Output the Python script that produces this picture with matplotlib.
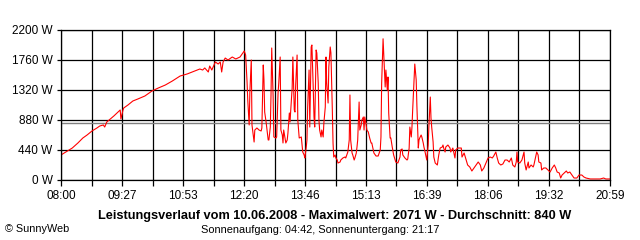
import numpy as np
import matplotlib
matplotlib.use("Agg")
import matplotlib.pyplot as plt

# Leistungsverlauf 10.06.2008 (time of day, power in W)
times = [
    "08:00", "08:07", "08:16", "08:24", "08:31", "08:37", "08:44", "08:51", "08:55", "09:00",
    "09:02", "09:05", "09:10", "09:15", "09:21", "09:24", "09:25", "09:28", "09:29", "09:35",
    "09:42", "09:49", "09:59", "10:09", "10:18", "10:28", "10:38", "10:49", "10:59", "11:10",
    "11:17", "11:21", "11:24", "11:29", "11:31", "11:34", "11:39", "11:43", "11:46", "11:48",
    "11:50", "11:53", "11:57", "12:03", "12:08", "12:14", "12:18", "12:20", "12:22", "12:24",
    "12:25", "12:27", "12:28", "12:30", "12:31", "12:34", "12:35", "12:38", "12:41", "12:44",
    "12:45", "12:47", "12:48", "12:49", "12:51", "12:54", "12:55", "12:57", "12:58", "12:59",
    "13:01", "13:02", "13:05", "13:06", "13:08", "13:09", "13:11", "13:12", "13:14", "13:15",
    "13:16", "13:19", "13:21", "13:22", "13:24", "13:25", "13:26", "13:28", "13:29", "13:31",
    "13:32", "13:33", "13:35", "13:36", "13:38", "13:41", "13:42", "13:43", "13:45", "13:46",
    "13:48", "13:49", "13:50", "13:52", "13:53", "13:55", "13:56", "13:58", "13:59", "14:00",
    "14:02", "14:03", "14:05", "14:06", "14:07", "14:09", "14:10", "14:12", "14:13", "14:15",
    "14:16", "14:17", "14:19", "14:20", "14:22", "14:23", "14:25", "14:26", "14:27", "14:29",
    "14:30", "14:32", "14:33", "14:36", "14:37", "14:40", "14:43", "14:44", "14:47", "14:49",
    "14:50", "14:51", "14:53", "14:54", "14:56", "14:57", "14:59", "15:00", "15:01", "15:03",
    "15:04", "15:06", "15:07", "15:09", "15:10", "15:11", "15:13", "15:14", "15:16", "15:18",
    "15:20", "15:21", "15:24", "15:27", "15:30", "15:33", "15:34", "15:35", "15:37", "15:38",
    "15:40", "15:41", "15:43", "15:44", "15:45", "15:47", "15:48", "15:50", "15:52", "15:55",
    "15:58", "16:01", "16:02", "16:04", "16:05", "16:08", "16:11", "16:12", "16:14", "16:15",
    "16:17", "16:18", "16:19", "16:21", "16:22", "16:24", "16:25", "16:27", "16:28", "16:29",
    "16:31", "16:32", "16:34", "16:35", "16:36", "16:38", "16:39", "16:41", "16:42", "16:44",
    "16:45", "16:46", "16:48", "16:49", "16:51", "16:54", "16:56", "16:58", "17:01", "17:02",
    "17:03", "17:05", "17:06", "17:09", "17:12", "17:13", "17:16", "17:19", "17:20", "17:23",
    "17:28", "17:29", "17:32", "17:35", "17:37", "17:40", "17:43", "17:46", "17:49", "17:52",
    "17:55", "17:57", "18:00", "18:03", "18:06", "18:09", "18:12", "18:14", "18:17", "18:19",
    "18:21", "18:24", "18:27", "18:30", "18:33", "18:36", "18:39", "18:41", "18:44", "18:46",
    "18:47", "18:48", "18:51", "18:54", "18:57", "18:58", "19:00", "19:03", "19:04", "19:07",
    "19:10", "19:11", "19:15", "19:17", "19:18", "19:21", "19:22", "19:25", "19:28", "19:31",
    "19:34", "19:37", "19:40", "19:42", "19:44", "19:47", "19:49", "19:51", "19:54", "19:57",
    "19:59", "20:02", "20:05", "20:08", "20:12", "20:15", "20:19", "20:22", "20:25", "20:31",
    "20:38", "20:45", "20:50", "20:53", "20:59",
]
watts = [
    367, 411, 469, 543, 616, 660, 719, 763, 792, 807,
    777, 851, 895, 939, 997, 1027, 895, 1027, 1056, 1100,
    1159, 1188, 1232, 1305, 1349, 1393, 1452, 1525, 1555, 1599,
    1628, 1613, 1643, 1584, 1672, 1613, 1731, 1701, 1731, 1584,
    1731, 1789, 1760, 1804, 1775, 1804, 1863, 1892, 1833, 1437,
    1173, 807, 1291, 1760, 807, 557, 733, 763, 733, 719,
    763, 1687, 1467, 997, 851, 587, 587, 777, 1247, 1936,
    1217, 631, 616, 631, 1276, 1423, 1804, 733, 660, 543,
    733, 543, 587, 689, 983, 851, 1027, 1349, 1804, 1027,
    997, 1393, 1833, 880, 616, 631, 513, 411, 367, 323,
    484, 587, 1071, 1613, 777, 1951, 1980, 1320, 924, 777,
    1907, 1863, 1423, 880, 733, 631, 733, 631, 836, 1071,
    1804, 1423, 1129, 1657, 1951, 1863, 1027, 543, 337, 367,
    323, 293, 249, 264, 293, 323, 337, 323, 411, 587,
    1247, 587, 396, 367, 293, 323, 396, 484, 587, 1144,
    733, 807, 880, 924, 733, 924, 807, 733, 704, 616,
    543, 543, 396, 352, 352, 440, 631, 1423, 2071, 1833,
    1364, 1613, 1320, 1511, 983, 616, 616, 484, 367, 264,
    249, 337, 440, 455, 367, 323, 293, 308, 469, 777,
    631, 777, 1027, 1467, 1701, 1467, 1085, 469, 587, 616,
    660, 631, 543, 484, 440, 337, 293, 513, 777, 1217,
    909, 777, 557, 337, 249, 220, 367, 469, 484, 513,
    469, 411, 484, 513, 469, 411, 469, 323, 440, 469,
    469, 337, 396, 293, 220, 191, 132, 176, 220, 264,
    220, 132, 176, 249, 323, 337, 323, 352, 411, 323,
    249, 220, 235, 293, 293, 264, 323, 220, 191, 264,
    411, 264, 249, 293, 411, 249, 147, 264, 176, 220,
    191, 220, 411, 367, 264, 249, 147, 176, 176, 147,
    117, 176, 220, 176, 117, 103, 29, 73, 103, 132,
    103, 117, 73, 29, 29, 73, 73, 44, 29, 15,
    15, 15, 29, 15, 15,
]
average = 840
tick_labels = ["08:00", "09:27", "10:53", "12:20", "13:46", "15:13", "16:39", "18:06", "19:32", "20:59"]
y_ticks = [0, 440, 880, 1320, 1760, 2200]

def to_min(s):
    h, m = s.split(":")
    return int(h) * 60 + int(m)

t = np.array([to_min(s) for s in times])
w = np.array(watts)
t0 = to_min(tick_labels[0])
t1 = to_min(tick_labels[-1])

plt.rcParams['font.family'] = ['Liberation Sans', 'DejaVu Sans']

fig = plt.figure(figsize=(6.4, 2.4), dpi=100)
ax = fig.add_axes([61/640, 60/240, 549/640, 150/240])

xt = np.linspace(t0, t1, 19)
ax.set_xticks(xt)
ax.set_xticklabels([tick_labels[i // 2] if i % 2 == 0 else "" for i in range(19)])
ax.set_yticks(y_ticks)
ax.set_yticklabels([f"{v} W" for v in y_ticks])
ax.set_xlim(t0, t1)
ax.set_ylim(0, 2200)
ax.grid(True, color='black', linewidth=0.9)
ax.set_axisbelow(True)
for s in ax.spines.values():
    s.set_linewidth(0.9)
ax.tick_params(axis='both', length=4, width=0.9, labelsize=8.5, pad=3)
ax.tick_params(axis='y', length=3)

ax.axhline(average, color='#808080', linewidth=1.0)
ax.plot(t, w, color='red', linewidth=0.8)

fig.text(335/640, 1 - 216/240, "Leistungsverlauf vom 10.06.2008 - Maximalwert: 2071 W - Durchschnitt: 840 W",
         ha='center', va='center', fontsize=9.2, fontweight='bold')
fig.text(320/640, 1 - 230/240, "Sonnenaufgang: 04:42, Sonnenuntergang: 21:17",
         ha='center', va='center', fontsize=7.9)
fig.text(5/640, 1 - 229/240, "\u00a9 SunnyWeb", ha='left', va='center', fontsize=7.8)

fig.savefig("out.png", dpi=100)
